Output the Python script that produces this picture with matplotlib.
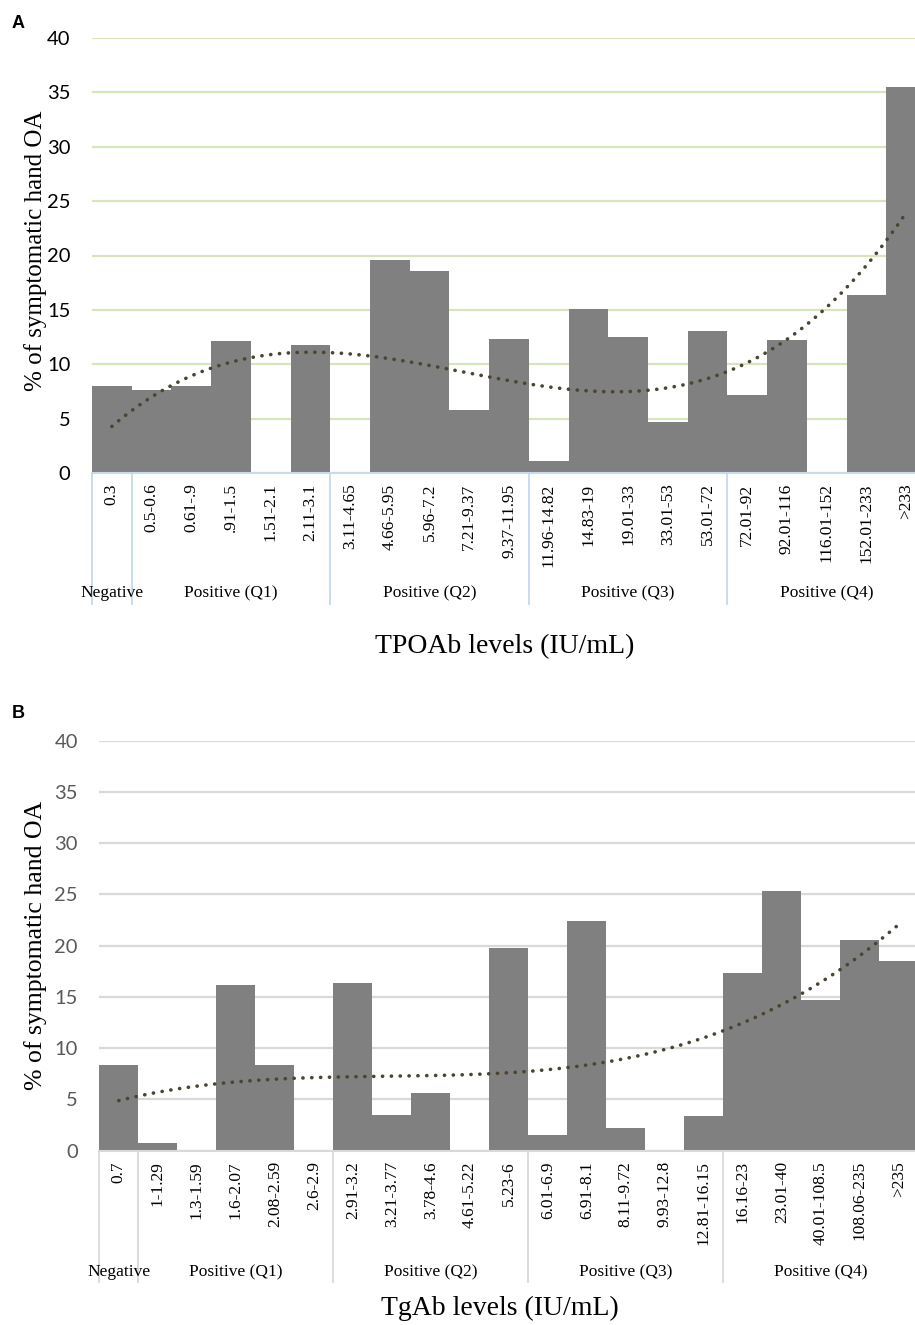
"""Symptomatic hand OA by TPOAb / TgAb level bins (panels A and B)."""

import numpy as np
import matplotlib

matplotlib.use("Agg")
import matplotlib.pyplot as plt

SERIF = ["Liberation Serif", "DejaVu Serif"]
SANS = ["Lato", "DejaVu Sans"]

# panel A: TPOAb
tpo_labels = [
    "0.3", "0.5-0.6", "0.61-.9", ".91-1.5", "1.51-2.1", "2.11-3.1",
    "3.11-4.65", "4.66-5.95", "5.96-7.2", "7.21-9.37", "9.37-11.95",
    "11.96-14.82", "14.83-19", "19.01-33", "33.01-53", "53.01-72",
    "72.01-92", "92.01-116", "116.01-152", "152.01-233", ">233",
]
tpo_values = [
    8.0, 7.6, 8.0, 12.1, 0.0, 11.8,
    0.0, 19.6, 18.6, 5.8, 12.3,
    1.1, 15.1, 12.5, 4.7, 13.1,
    7.2, 12.2, 0.0, 16.4, 35.5,
]

# panel B: TgAb
tg_labels = [
    "0.7", "1-1.29", "1.3-1.59", "1.6-2.07", "2.08-2.59", "2.6-2.9",
    "2.91-3.2", "3.21-3.77", "3.78-4.6", "4.61-5.22", "5.23-6",
    "6.01-6.9", "6.91-8.1", "8.11-9.72", "9.93-12.8", "12.81-16.15",
    "16.16-23", "23.01-40", "40.01-108.5", "108.06-235", ">235",
]
tg_values = [
    8.4, 0.8, 0.0, 16.2, 8.4, 0.0,
    16.4, 3.5, 5.6, 0.0, 19.8,
    1.5, 22.4, 2.2, 0.0, 3.4,
    17.3, 25.3, 14.7, 20.6, 18.5,
]

group_names = ["Negative", "Positive (Q1)", "Positive (Q2)", "Positive (Q3)", "Positive (Q4)"]
group_bounds = [(0, 0), (1, 5), (6, 10), (11, 15), (16, 20)]

W, H = 915, 1325


def draw_panel(ax, labels, values, grid_color, axis_color, ytick_color,
               sep_depth, group_y, trend_degree=3):
    x = np.arange(len(values))
    ax.bar(x, values, width=1.0, color="#808080", linewidth=0, zorder=2)

    # Excel-style polynomial trendline
    coef = np.polyfit(x + 1, values, trend_degree)
    xs = np.linspace(0, len(values) - 1, 200)
    ax.plot(xs, np.polyval(coef, xs + 1), color="#4a4430", lw=2.6,
            linestyle=(0, (0.05, 2.4)), dash_capstyle="round", zorder=3)

    ax.set_xlim(-0.5, len(values) - 0.5)
    ax.set_ylim(0, 40)
    ax.set_yticks(range(0, 41, 5))
    ax.yaxis.grid(True, color=grid_color, lw=1.6, zorder=0)
    ax.set_axisbelow(True)
    for side in ["top", "right", "left"]:
        ax.spines[side].set_visible(False)
    ax.spines["bottom"].set_color(axis_color)
    ax.spines["bottom"].set_linewidth(1.5)
    ax.spines["bottom"].set_zorder(4)

    ax.tick_params(axis="y", length=0, pad=15.5, labelsize=14.5, labelcolor=ytick_color)
    for t in ax.get_yticklabels():
        t.set_family(SANS)
    ax.set_xticks(x)
    ax.set_xticklabels(labels, rotation=90, va="top", ha="center",
                       fontsize=12.5, family=SERIF)
    ax.tick_params(axis="x", length=0, pad=7.5)

    trans = ax.get_xaxis_transform()
    for b in [-0.5, 0.5, 5.5, 10.5, 15.5]:
        ax.plot([b, b], [0, sep_depth], transform=trans, color=axis_color,
                lw=1.3, clip_on=False, zorder=1)
    for name, (lo, hi) in zip(group_names, group_bounds):
        ax.text((lo + hi) / 2, group_y, name, transform=trans, ha="center",
                va="center", fontsize=12.5, family=SERIF)


fig = plt.figure(figsize=(W / 100, H / 100), dpi=100)

# panel A
axA = fig.add_axes([92 / W, 1 - 473 / H, 834 / W, 435 / H])
draw_panel(axA, tpo_labels, tpo_values, "#d8e4bc", "#c6d9f0", "black",
           sep_depth=-0.30, group_y=-0.276)
axA.set_ylabel("% of symptomatic hand OA", fontsize=18, family=SERIF)
axA.yaxis.set_label_coords(-0.054, 0.51)
fig.text(505 / W, 1 - 647 / H, "TPOAb levels (IU/mL)", ha="center", va="center",
         fontsize=20, family=SERIF)
fig.text(12 / W, 1 - 23 / H, "A", ha="left", va="center", fontsize=13,
         fontweight="bold", family=["Liberation Sans", "DejaVu Sans"])

# panel B
axB = fig.add_axes([99.3 / W, 1 - 1150.7 / H, 819 / W, 410 / H])
draw_panel(axB, tg_labels, tg_values, "#d9d9d9", "#d9d9d9", "#595959",
           sep_depth=-0.32, group_y=-0.296)
axB.set_ylabel("% of symptomatic hand OA", fontsize=18.5, family=SERIF)
axB.yaxis.set_label_coords(-0.064, 0.50)
fig.text(500 / W, 1 - 1308 / H, "TgAb levels (IU/mL)", ha="center", va="center",
         fontsize=20, family=SERIF)
fig.text(12 / W, 1 - 714 / H, "B", ha="left", va="center", fontsize=13,
         fontweight="bold", family=["Liberation Sans", "DejaVu Sans"])

fig.savefig("out.png", dpi=100, facecolor="white")
